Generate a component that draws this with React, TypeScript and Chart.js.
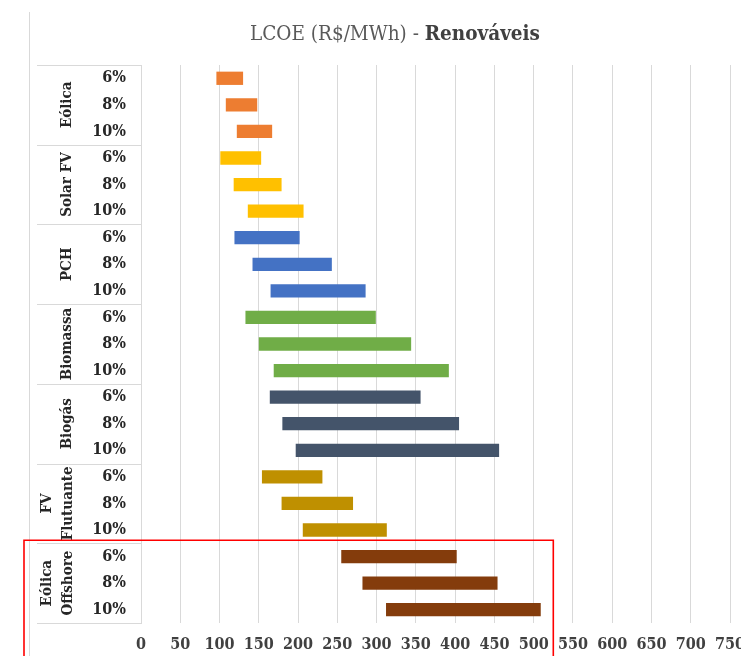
import React, { useEffect, useRef } from "react";
import { Chart, registerables } from "chart.js";

Chart.register(...registerables);

// Technologies (line breaks for the rotated names), each evaluated at three discount rates
const GROUPS = [["Eólica"], ["Solar FV"], ["PCH"], ["Biomassa"], ["Biogás"], ["FV", "Flutuante"], ["Eólica", "Offshore"]];
const RATES = ["6%", "8%", "10%"];

// LCOE ranges [min, max] in R$/MWh, one pair per discount rate
const EOLICA = [[96, 130], [108, 148], [122, 167]];
const SOLAR_FV = [[101, 153], [118, 179], [136, 207]];
const PCH = [[119, 202], [142, 243], [165, 286]];
const BIOMASSA = [[133, 299], [150, 344], [169, 392]];
const BIOGAS = [[164, 356], [180, 405], [197, 456]];
const FV_FLUTUANTE = [[154, 231], [179, 270], [206, 313]];
const EOLICA_OFFSHORE = [[255, 402], [282, 454], [312, 509]];

const GROUP_COLORS = ["#ED7D31", "#FFC000", "#4472C4", "#70AD47", "#44546A", "#BF9000", "#843C0C"];

// x-axis range and step
const X_MIN = 0;
const X_MAX = 750;
const X_STEP = 50;

// right end of the highlight box around the offshore group, in R$/MWh
const HIGHLIGHT_RIGHT = 525;

const SERIF = '"DejaVu Serif Condensed", "DejaVu Serif", serif';

const ranges = [EOLICA, SOLAR_FV, PCH, BIOMASSA, BIOGAS, FV_FLUTUANTE, EOLICA_OFFSHORE];

export default function App() {
  const ref = useRef<HTMLCanvasElement | null>(null);

  useEffect(() => {
    if (!ref.current) return;

    const labels: string[] = [];
    const data: number[][] = [];
    const colors: string[] = [];
    ranges.forEach((g, gi) => {
      g.forEach((r, ri) => {
        labels.push(RATES[ri]);
        data.push(r);
        colors.push(GROUP_COLORS[gi]);
      });
    });

    const decor = {
      id: "decor",
      afterDraw(chart: any) {
        const ctx = chart.ctx as CanvasRenderingContext2D;
        const y = chart.scales.y;
        const x = chart.scales.x;
        const area = chart.chartArea;
        const n = labels.length;
        const boundary = (i: number) => {
          if (i <= 0) return area.top;
          if (i >= n) return area.bottom;
          return (y.getPixelForValue(i - 1) + y.getPixelForValue(i)) / 2;
        };

        ctx.save();
        // outer frame line on the left
        ctx.strokeStyle = "#d9d9d9";
        ctx.lineWidth = 1;
        ctx.beginPath();
        ctx.moveTo(29.5, 12);
        ctx.lineTo(29.5, chart.height);
        ctx.stroke();

        // group separators in the category column
        for (let g = 0; g <= GROUPS.length; g++) {
          const yy = Math.round(boundary(g * RATES.length)) + 0.5;
          ctx.beginPath();
          ctx.moveTo(37, yy);
          ctx.lineTo(area.left, yy);
          ctx.stroke();
        }

        // rotated group names
        ctx.fillStyle = "#262626";
        ctx.font = `bold 15px ${SERIF}`;
        ctx.textAlign = "center";
        ctx.textBaseline = "middle";
        GROUPS.forEach((lines, g) => {
          const cy = (boundary(g * RATES.length) + boundary((g + 1) * RATES.length)) / 2;
          const xs = lines.length === 1 ? [67] : [47, 68];
          lines.forEach((w, wi) => {
            ctx.save();
            ctx.translate(xs[wi], cy);
            ctx.rotate(-Math.PI / 2);
            ctx.fillText(w, 0, 0);
            ctx.restore();
          });
        });

        // title with bold suffix
        const t1 = "LCOE (R$/MWh) - ";
        const t2 = "Renováveis";
        ctx.textAlign = "left";
        ctx.textBaseline = "alphabetic";
        ctx.font = `20.5px ${SERIF}`;
        const w1 = ctx.measureText(t1).width;
        ctx.font = `bold 20.5px ${SERIF}`;
        const w2 = ctx.measureText(t2).width;
        const start = 395 - (w1 + w2) / 2;
        ctx.font = `20.5px ${SERIF}`;
        ctx.fillStyle = "#595959";
        ctx.fillText(t1, start, 40);
        ctx.font = `bold 20.5px ${SERIF}`;
        ctx.fillStyle = "#404040";
        ctx.fillText(t2, start + w1, 40);

        // highlight box around the offshore rows
        const top = boundary((GROUPS.length - 1) * RATES.length) - 3;
        const right = x.getPixelForValue(HIGHLIGHT_RIGHT);
        ctx.strokeStyle = "#FF0000";
        ctx.lineWidth = 1.6;
        ctx.beginPath();
        ctx.moveTo(24, chart.height + 5);
        ctx.lineTo(24, top);
        ctx.lineTo(right, top);
        ctx.lineTo(right, chart.height + 5);
        ctx.stroke();
        ctx.restore();
      },
    };

    const chart = new Chart(ref.current, {
      type: "bar",
      data: {
        labels,
        datasets: [
          {
            data: data as any,
            backgroundColor: colors,
            borderWidth: 0,
            borderSkipped: false,
            barPercentage: 0.5,
            categoryPercentage: 1,
          },
        ],
      },
      options: {
        indexAxis: "y",
        animation: false,
        responsive: false,
        layout: { padding: { top: 65, left: 0, right: 11, bottom: 0 } },
        plugins: {
          legend: { display: false },
          tooltip: { enabled: false },
          title: { display: false },
        },
        scales: {
          x: {
            min: X_MIN,
            max: X_MAX,
            ticks: {
              stepSize: X_STEP,
              color: "#404040",
              font: { family: SERIF, size: 16, weight: "bold" },
              padding: 12,
              maxRotation: 0,
              autoSkip: false,
            },
            grid: { color: "#d9d9d9", lineWidth: 1, drawTicks: false },
            border: { display: false },
            afterFit(s: any) {
              s.height = 33;
              s.paddingLeft = 0;
              s.paddingRight = 0;
            },
          },
          y: {
            ticks: {
              color: "#262626",
              font: { family: SERIF, size: 16, weight: "bold" },
              padding: 15,
              autoSkip: false,
            },
            grid: { display: false, drawTicks: false },
            border: { display: true, color: "#d9d9d9", width: 1 },
            afterFit(s: any) {
              s.width = 141;
            },
          },
        },
      },
      plugins: [decor],
    });

    return () => chart.destroy();
  }, []);

  return (
    <div style={{ position: "fixed", left: 0, top: 0, width: 741, height: 656, background: "#fff" }}>
      <canvas ref={ref} width={741} height={656} style={{ display: "block" }} />
    </div>
  );
}
